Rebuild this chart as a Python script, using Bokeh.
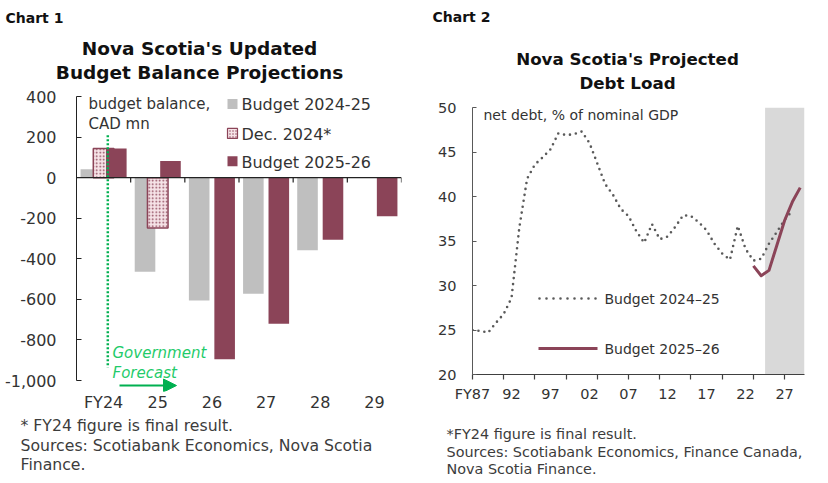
from bokeh.plotting import figure
from bokeh.layouts import row, column
from bokeh.models import (Range1d, FixedTicker, NumeralTickFormatter, Label,
                          BoxAnnotation, Arrow, NormalHead, Span)
from bokeh.embed import file_html
from bokeh.resources import INLINE

# ---------------- Chart 1 data (budget balance, CAD mn) ----------------
fiscal_years = ["FY24", "25", "26", "27", "28", "29"]
budget_2024_25 = [41, -464, -605, -572, -358, None]
dec_2024 = [144, -248, None, None, None, None]
budget_2025_26 = [144, 82, -895, -720, -306, -190]
y1_ticks = [-1000, -800, -600, -400, -200, 0, 200, 400]

# ---------------- Chart 2 data (net debt, % of nominal GDP) ----------------
years_2024_25 = [1987, 1988, 1989, 1990, 1991, 1992, 1993, 1994, 1995, 1996,
                 1997, 1998, 1999, 2000, 2001, 2002, 2003, 2004, 2005, 2006,
                 2007, 2008, 2009, 2010, 2011, 2012, 2013, 2014, 2015, 2016,
                 2017, 2018, 2019, 2020, 2021, 2022, 2023, 2024, 2025, 2026,
                 2027, 2028]
debt_2024_25 = [25.0, 24.9, 24.7, 25.8, 26.8, 28.6, 36.5, 42.0, 43.6, 44.4,
                45.3, 47.1, 46.9, 47.0, 47.3, 46.0, 43.7, 41.4, 40.2, 38.6,
                37.8, 36.1, 34.8, 36.9, 35.2, 35.5, 36.6, 37.9, 37.8, 37.1,
                36.2, 34.7, 33.6, 32.9, 36.7, 34.1, 32.8, 33.0, 34.7, 36.0,
                37.4, 38.4]
years_2025_26 = [2023, 2024, 2025, 2026, 2027, 2028, 2029]
debt_2025_26 = [32.2, 31.1, 31.7, 34.5, 37.3, 39.4, 41.0]
x2_label_years = [1987, 1992, 1997, 2002, 2007, 2012, 2017, 2022, 2027]
x2_labels = ["FY87", "92", "97", "02", "07", "12", "17", "22", "27"]
x2_tickmark_years = [1987, 1991, 1995, 1999, 2003, 2007, 2011, 2015, 2019, 2023, 2027]
y2_ticks = [20, 25, 30, 35, 40, 45, 50]
forecast_start = 2024.5

# ---------------- styles ----------------
FONT = "DejaVu Sans"
GRAY = "#BFBFBF"
MAROON = "#8B4458"
PINK = "#F6E3E7"
GREEN = "#00B050"
GREEN_TXT = "#1FCB6A"
TXT = "#333333"
NOTE = "#3C3C3C"
DOTGRAY = "#5A5A5A"
W1, W2 = 420, 406
TOTAL_H = 482

# page-pixel -> data helpers for the two chart frames (text/decoration placement)
def X1(px):
    return -0.5 + (px - 76) * 6.0 / 325
def Y1(py):
    return 400 - (py - 96) * 1400.0 / 285
def X2(px):
    return 1987 + (px - 472) * 42.55 / 332
def Y2(py):
    return 50 - (py - 107) * 30.0 / 267

def lab(p, x, y, text, size="15px", color=TXT, align="left", style="normal"):
    p.add_layout(Label(x=x, y=y, text=text, text_font=FONT, text_font_size=size,
                       text_color=color, text_align=align, text_baseline="middle",
                       text_font_style=style))

def strip(w, h):
    s = figure(width=w, height=h, x_range=Range1d(0, w), y_range=Range1d(h, 0),
               x_axis_type=None, y_axis_type=None, output_backend="svg",
               toolbar_location=None, min_border=0, frame_align=False)
    s.grid.visible = False
    s.outline_line_color = None
    return s

# ================= Chart 1 =================
T1_H = 84
P1_BOTTOM = 22
P1_H = 12 + 296 + P1_BOTTOM
B1_H = TOTAL_H - T1_H - P1_H

t1 = strip(W1, T1_H)
lab(t1, 5, 17, "Chart 1", size="14px", color="#111111", style="bold")
lab(t1, 199, 48, "Nova Scotia's Updated", size="18.5px", color="#111111", align="center", style="bold")
lab(t1, 199, 72, "Budget Balance Projections", size="18.5px", color="#111111", align="center", style="bold")

p1 = figure(width=W1, height=P1_H, x_range=Range1d(-0.5, 5.5), y_range=Range1d(Y1(392), 400),
            output_backend="svg", toolbar_location=None, frame_align=False,
            min_border_left=76, min_border_right=W1 - 401, min_border_top=12,
            min_border_bottom=P1_BOTTOM)
p1.grid.visible = False
p1.outline_line_color = None

OFF, BW = 0.235, 0.38
idx = list(range(len(fiscal_years)))

def pts(vals, off):
    xs = [i + off for i, v in zip(idx, vals) if v is not None]
    ts = [v for v in vals if v is not None]
    return xs, ts

gx, gt = pts(budget_2024_25, -OFF)
p1.vbar(x=gx, top=gt, bottom=0, width=BW, fill_color=GRAY, line_color=None)
dx, dt = pts(dec_2024, 0.0)
p1.vbar(x=dx, top=dt, bottom=0, width=BW, fill_color=PINK, line_color=MAROON, line_width=1.5,
        hatch_pattern="dot", hatch_color=MAROON, hatch_scale=3.5, hatch_weight=1.0)
mx, mt = pts(budget_2025_26, OFF)
p1.vbar(x=mx, top=mt, bottom=0, width=BW, fill_color=MAROON, line_color=None)

# zero line with category-boundary tick marks
p1.add_layout(Span(location=0, dimension="width", line_color="#222222", line_width=1.2))
bounds = [i + 0.5 for i in idx]
p1.segment(x0=bounds, y0=[0] * len(bounds), x1=bounds, y1=[-24] * len(bounds),
           line_color="#222222", line_width=1.2)

# government forecast divider
p1.segment(x0=[X1(107.3)], y0=[Y1(135)], x1=[X1(107.3)], y1=[Y1(368)],
           line_color=GREEN, line_width=2.5, line_dash="2 2")
lab(p1, X1(112), Y1(353), "Government", size="15px", color=GREEN_TXT, style="italic")
lab(p1, X1(112), Y1(373), "Forecast", size="15px", color=GREEN_TXT, style="italic")
p1.add_layout(Arrow(end=NormalHead(size=13, fill_color=GREEN, line_color=GREEN),
                    x_start=X1(119), y_start=Y1(386), x_end=X1(176), y_end=Y1(386),
                    line_color=GREEN, line_width=2))

# axes
p1.yaxis.ticker = FixedTicker(ticks=y1_ticks)
p1.yaxis.bounds = (-1000, 400)
p1.yaxis.formatter = NumeralTickFormatter(format="0,0")
p1.yaxis.major_tick_in = 5
p1.yaxis.major_tick_out = 0
p1.yaxis.minor_tick_line_color = None
p1.yaxis.axis_line_color = "#222222"
p1.yaxis.major_tick_line_color = "#222222"
p1.yaxis.major_label_standoff = 20
p1.yaxis.major_label_text_font = FONT
p1.yaxis.major_label_text_font_size = "16px"
p1.yaxis.major_label_text_color = TXT

p1.xaxis.ticker = FixedTicker(ticks=idx)
p1.xaxis.major_label_overrides = {i: s for i, s in zip(idx, fiscal_years)}
p1.xaxis.axis_line_color = None
p1.xaxis.major_tick_line_color = None
p1.xaxis.minor_tick_line_color = None
p1.xaxis.major_tick_out = 0
p1.xaxis.major_label_standoff = 1
p1.xaxis.major_label_text_font = FONT
p1.xaxis.major_label_text_font_size = "16px"
p1.xaxis.major_label_text_color = TXT

# legend
p1.scatter(x=[X1(232)], y=[Y1(103.5)], marker="square", size=10, fill_color=GRAY, line_color=None)
p1.scatter(x=[X1(232)], y=[Y1(133)], marker="square", size=10, fill_color=PINK, line_color=MAROON,
           line_width=1.2, hatch_pattern="dot", hatch_color=MAROON, hatch_scale=3, hatch_weight=1.0)
p1.scatter(x=[X1(232)], y=[Y1(161)], marker="square", size=10, fill_color=MAROON, line_color=None)
lab(p1, X1(241), Y1(104), "Budget 2024-25", size="16px")
lab(p1, X1(241), Y1(134), "Dec. 2024*", size="16px")
lab(p1, X1(241), Y1(162), "Budget 2025-26", size="16px")
lab(p1, X1(88), Y1(104), "budget balance,")
lab(p1, X1(88), Y1(124), "CAD mn")

b1 = strip(W1, B1_H)
B1_TOP = T1_H + P1_H
lab(b1, 20, 425 - B1_TOP, "* FY24 figure is final result.", size="15.7px", color=NOTE)
lab(b1, 20, 445 - B1_TOP, "Sources: Scotiabank Economics, Nova Scotia", size="15.7px", color=NOTE)
lab(b1, 20, 464 - B1_TOP, "Finance.", size="15.7px", color=NOTE)

# ================= Chart 2 =================
T2_H = 95
P2_H = 12 + 267 + 32
B2_H = TOTAL_H - T2_H - P2_H
OX2 = W1  # page x of chart 2's left edge

t2 = strip(W2, T2_H)
lab(t2, 432 - OX2, 16, "Chart 2", size="14px", color="#111111", style="bold")
lab(t2, 627 - OX2, 58, "Nova Scotia's Projected", size="16.7px", color="#111111", align="center", style="bold")
lab(t2, 627 - OX2, 82, "Debt Load", size="16.7px", color="#111111", align="center", style="bold")

p2 = figure(width=W2, height=P2_H, x_range=Range1d(1987, 2029.55), y_range=Range1d(20, 50),
            output_backend="svg", toolbar_location=None, frame_align=False,
            min_border_left=472 - OX2, min_border_right=OX2 + W2 - 804,
            min_border_top=12, min_border_bottom=32)
p2.grid.visible = False
p2.outline_line_color = None

p2.add_layout(BoxAnnotation(left=forecast_start, fill_color="#D9D9D9", fill_alpha=1.0,
                            line_color=None, level="underlay"))

p2.line(years_2024_25, debt_2024_25, line_color=DOTGRAY, line_width=2.6, line_dash="0 6",
        line_cap="round", line_join="round")
p2.line(years_2025_26, debt_2025_26, line_color=MAROON, line_width=3, line_join="round")

# legend
p2.segment(x0=[X2(539)], y0=[Y2(298)], x1=[X2(596)], y1=[Y2(298)], line_color=DOTGRAY,
           line_width=2.6, line_dash="0 7", line_cap="round")
p2.segment(x0=[X2(538)], y0=[Y2(348)], x1=[X2(597)], y1=[Y2(348)], line_color=MAROON, line_width=3)
lab(p2, X2(604), Y2(298), "Budget 2024\u201325", size="14px")
lab(p2, X2(604), Y2(348), "Budget 2025\u201326", size="14px")
lab(p2, X2(483), Y2(114), "net debt, % of nominal GDP", size="14px")

# axes
p2.yaxis.ticker = FixedTicker(ticks=y2_ticks)
p2.yaxis.major_tick_in = 4
p2.yaxis.major_tick_out = 0
p2.yaxis.minor_tick_line_color = None
p2.yaxis.axis_line_color = "#595959"
p2.yaxis.major_tick_line_color = "#595959"
p2.yaxis.major_label_standoff = 16
p2.yaxis.major_label_text_font = FONT
p2.yaxis.major_label_text_font_size = "14.5px"
p2.yaxis.major_label_text_color = TXT

p2.xaxis.ticker = FixedTicker(ticks=x2_label_years, minor_ticks=x2_tickmark_years)
p2.xaxis.major_label_overrides = {y: s for y, s in zip(x2_label_years, x2_labels)}
p2.xaxis.axis_line_color = "#404040"
p2.xaxis.axis_line_width = 1.2
p2.xaxis.major_tick_in = 0
p2.xaxis.major_tick_out = 0
p2.xaxis.minor_tick_in = 0
p2.xaxis.minor_tick_out = 5
p2.xaxis.minor_tick_line_color = "#404040"
p2.xaxis.minor_tick_line_width = 1.2
p2.xaxis.major_label_standoff = 6
p2.xaxis.major_label_text_font = FONT
p2.xaxis.major_label_text_font_size = "14.5px"
p2.xaxis.major_label_text_color = TXT

b2 = strip(W2, B2_H)
B2_TOP = T2_H + P2_H
lab(b2, 446 - OX2, 433 - B2_TOP, "*FY24 figure is final result.", size="14.4px", color=NOTE)
lab(b2, 446 - OX2, 451 - B2_TOP, "Sources: Scotiabank Economics, Finance Canada,", size="14.4px", color=NOTE)
lab(b2, 446 - OX2, 468 - B2_TOP, "Nova Scotia Finance.", size="14.4px", color=NOTE)

layout = row(column(t1, p1, b1), column(t2, p2, b2))
open("out.html", "w").write(file_html(layout, INLINE))
